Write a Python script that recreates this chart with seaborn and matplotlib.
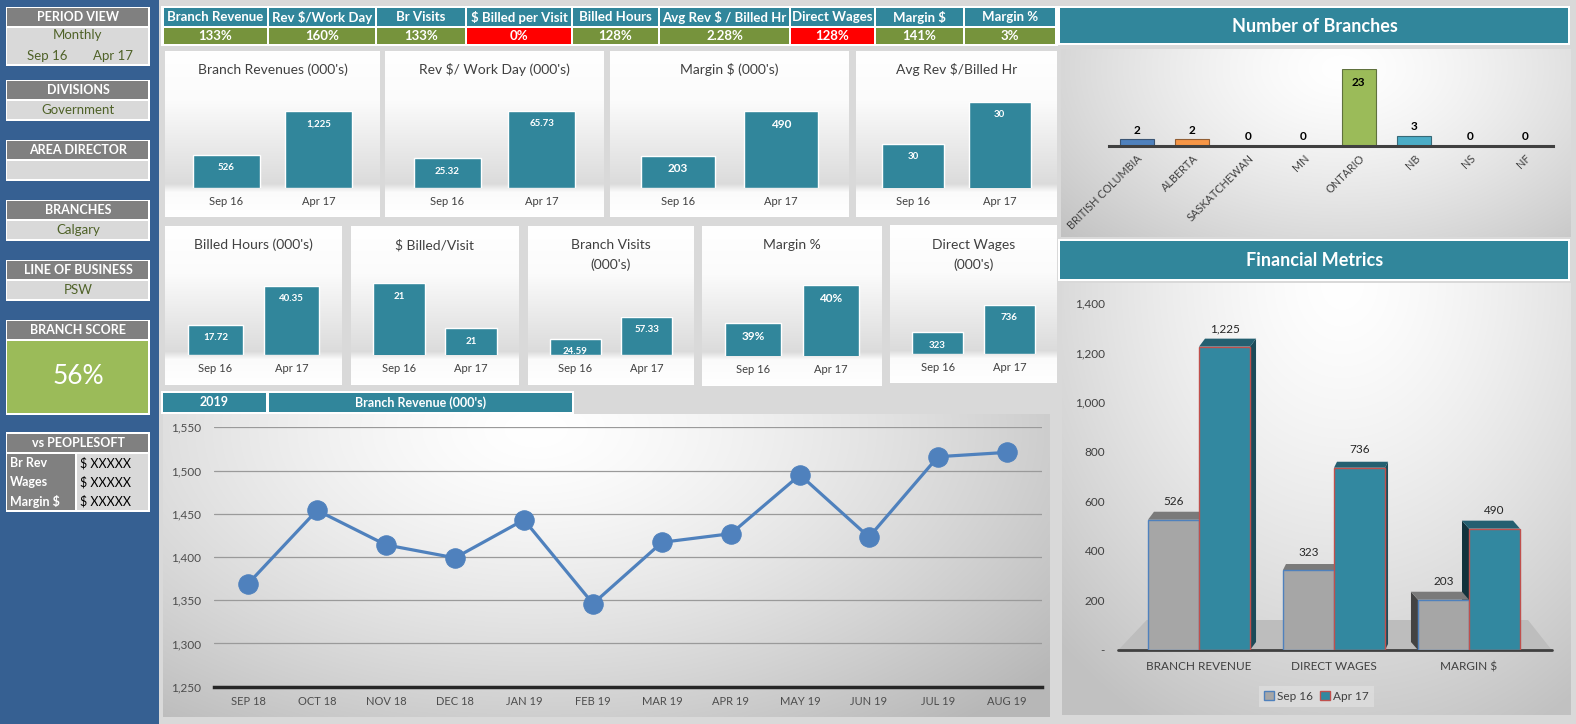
import numpy as np
import pandas as pd
import matplotlib.pyplot as plt
from matplotlib.patches import Rectangle, Polygon, Patch
from matplotlib.ticker import FuncFormatter
import seaborn as sns

# ---------------- data ----------------
periods = ["Sep 16", "Apr 17"]

kpi_names = ["Branch Revenue", "Rev $/Work Day", "Br Visits", "$ Billed per Visit",
             "Billed Hours", "Avg Rev $ / Billed Hr", "Direct Wages", "Margin $", "Margin %"]
kpi_values = ["133%", "160%", "133%", "0%", "128%", "2.28%", "128%", "141%", "3%"]
kpi_status = ["ok", "ok", "ok", "bad", "ok", "ok", "bad", "ok", "ok"]

branch_revenues = [526, 1225]
rev_per_work_day = [25.32, 65.73]
margin_dollars = [203, 490]
avg_rev_billed_hr = [29.6, 30.4]
billed_hours = [17.72, 40.35]
billed_per_visit = [21.4, 20.6]
branch_visits = [24.59, 57.33]
margin_pct = [0.392, 0.404]
direct_wages = [323, 736]

provinces = ["BRITISH COLUMBIA", "ALBERTA", "SASKATCHEWAN", "MN", "ONTARIO", "NB", "NS", "NF"]
branch_counts = [2, 2, 0, 0, 23, 3, 0, 0]

fin_metrics = ["BRANCH REVENUE", "DIRECT WAGES", "MARGIN $"]
fin_sep16 = [526, 323, 203]
fin_apr17 = [1225, 736, 490]

months = ["SEP 18", "OCT 18", "NOV 18", "DEC 18", "JAN 19", "FEB 19",
          "MAR 19", "APR 19", "MAY 19", "JUN 19", "JUL 19", "AUG 19"]
monthly_revenue = [1369, 1454, 1414, 1399, 1443, 1346, 1417, 1427, 1495, 1423, 1516, 1521]

peoplesoft_rows = ["Br Rev", "Wages", "Margin $"]
peoplesoft_vals = ["$ XXXXX", "$ XXXXX", "$ XXXXX"]

# ---------------- style ----------------
W, H = 1576, 724
TEAL = "#31869b"
GREEN = "#76933c"
RED = "#ff0000"
SIDE_BLUE = "#366092"
MAIN_BG = "#d9d9d9"
HEADER_GRAY = "#808080"
BODY_GRAY = "#d9d9d9"
OLIVE_TXT = "#4f6228"
TXT = "#404040"

sns.set_theme(style="white")
plt.rcParams["font.family"] = ["Lato", "DejaVu Sans"]

fig = plt.figure(figsize=(W / 100, H / 100), dpi=100)
fig.patch.set_facecolor(MAIN_BG)

bg = fig.add_axes([0, 0, 1, 1])
bg.axis("off")


def to_fig(x0, y0, x1, y1):
    return [x0 / W, 1 - y1 / H, (x1 - x0) / W, (y1 - y0) / H]


def rect(x0, y0, x1, y1, color, z=2):
    bg.add_patch(Rectangle((x0, y0), x1 - x0, y1 - y0, facecolor=color, edgecolor="none", zorder=z))


def label(x, y, s, **kw):
    kw.setdefault("ha", "center")
    kw.setdefault("va", "center")
    kw.setdefault("zorder", 5)
    bg.text(x, y, s, **kw)


def radial_panel(x0, y0, x1, y1, cx, cy, rx, ry, inner=1.0, outer=0.74):
    w, h = int(x1 - x0), int(y1 - y0)
    yy, xx = np.mgrid[0:h, 0:w]
    r = np.sqrt(((xx - cx * w) / (rx * w)) ** 2 + ((yy - cy * h) / (ry * h)) ** 2)
    t = np.clip(r, 0, 1) ** 1.4
    c = inner + (outer - inner) * t
    bg.imshow(np.dstack([c, c, c]), extent=(x0, x1, y1, y0), aspect="auto",
              interpolation="bilinear", zorder=1)


def band_panel(x0, y0, x1, y1, base):
    h, w = int(y1 - y0), int(x1 - x0)
    y = np.linspace(0, 1, h)
    fb = (base - y0) / (y1 - y0)
    v = np.interp(y, [0, 0.3, fb - 0.02, fb + 0.03, 1], [1.0, 0.985, 0.86, 0.985, 1.0])
    img = np.repeat(v[:, None], w, axis=1)
    bg.imshow(np.dstack([img, img, img]), extent=(x0, x1, y1, y0), aspect="auto",
              interpolation="bilinear", zorder=1)


# ---------------- left sidebar ----------------
rect(0, 0, 159, H, SIDE_BLUE, z=0)


def filter_box(y, h, title, body_color=BODY_GRAY):
    rect(6, y, 150, y + h, "white")
    rect(7.5, y + 1.7, 148.5, y + 19.5, HEADER_GRAY, z=3)
    rect(7.5, y + 21, 148.5, y + h - 1.7, body_color, z=3)
    label(78, y + 10.8, title, color="white", fontsize=9, fontweight="bold")


filter_box(6.5, 59.5, "PERIOD VIEW")
label(78, 35, "Monthly", color=OLIVE_TXT, fontsize=9.5)
label(47, 56, periods[0], color=OLIVE_TXT, fontsize=9.5)
label(113, 56, periods[1], color=OLIVE_TXT, fontsize=9.5)

filter_box(79.5, 41.5, "DIVISIONS")
label(78, 110, "Government", color=OLIVE_TXT, fontsize=9.5)
filter_box(139.5, 41.5, "AREA DIRECTOR")
filter_box(199.5, 41.5, "BRANCHES")
label(78, 230, "Calgary", color=OLIVE_TXT, fontsize=9.5)
filter_box(259.5, 41.5, "LINE OF BUSINESS")
label(78, 290, "PSW", color=OLIVE_TXT, fontsize=9.5)

filter_box(319.5, 95, "BRANCH SCORE", body_color="#9bbb59")
label(78, 377, "56%", color="white", fontsize=19)

rect(6, 432, 150, 512, "white")
rect(7.5, 433.7, 148.5, 452, HEADER_GRAY, z=3)
label(78, 443, "vs PEOPLESOFT", color="white", fontsize=9, fontweight="bold")
rect(7.5, 454, 75, 510.3, HEADER_GRAY, z=3)
rect(77, 454, 148.5, 510.3, BODY_GRAY, z=3)
for i, (r_name, r_val) in enumerate(zip(peoplesoft_rows, peoplesoft_vals)):
    yy = 463 + i * 19
    label(10, yy, r_name, ha="left", color="white", fontsize=9, fontweight="bold")
    label(80, yy, r_val, ha="left", color="black", fontsize=9)

# ---------------- KPI strip ----------------
kpi_edges = [163, 268, 376, 466, 572, 659, 790, 875, 964, 1056]
rect(161, 6, 1058, 45.5, "white")
for i, (name, val, status) in enumerate(zip(kpi_names, kpi_values, kpi_status)):
    xa, xb = kpi_edges[i] + 1, kpi_edges[i + 1] - 1
    rect(xa, 8, xb, 26, TEAL, z=3)
    rect(xa, 27.5, xb, 43.5, GREEN if status == "ok" else RED, z=3)
    label((xa + xb) / 2, 17, name, color="white", fontsize=9.5, fontweight="bold")
    label((xa + xb) / 2, 35.5, val, color="white", fontsize=9.5, fontweight="bold")

# ---------------- small bar panels ----------------
small_charts = [
    # title lines, values, label fmt, panel, baseline, tallest top, y floor, label size
    (["Branch Revenues (000's)"], branch_revenues, "{:,.0f}", (165, 51, 380, 217), 187.5, 111, 0, 7),
    (["Rev $/ Work Day (000's)"], rev_per_work_day, "{:.2f}", (385, 51, 604, 217), 187.5, 111, 0, 7),
    (["Margin $ (000's)"], margin_dollars, "{:,.0f}", (610, 51, 849, 217), 187.5, 111, 0, 8.5),
    (["Avg Rev $/Billed Hr"], avg_rev_billed_hr, "{:.0f}", (856, 51, 1057, 217), 187.5, 102, 28.77, 7),
    (["Billed Hours (000's)"], billed_hours, "{:.2f}", (165, 226, 342, 385), 355, 286, 0, 7),
    (["$ Billed/Visit"], billed_per_visit, "{:.0f}", (351, 226, 519, 385), 355, 283, 20.125, 7),
    (["Branch Visits", "(000's)"], branch_visits, "{:.2f}", (528, 226, 694, 385), 355, 317, 0, 7),
    (["Margin %"], margin_pct, "{:.0%}", (702, 226, 882, 386), 355.5, 285, 0.3818, 8.5),
    (["Direct Wages", "(000's)"], direct_wages, "{:,.0f}", (890, 225, 1057, 383), 354, 305, 0, 7),
]

for title, vals, fmt, panel, base, top, yfloor, lsize in small_charts:
    x0, y0, x1, y1 = panel
    rect(x0, y0, x1, y1, "white", z=0.5)
    band_panel(x0, y0, x1, y1, base)
    cx = (x0 + x1) / 2
    sp = 0.43 * (x1 - x0)
    ax = fig.add_axes(to_fig(cx - sp, top, cx + sp, base))
    ax.set_facecolor("none")
    sns.barplot(x=periods, y=vals, color=TEAL, width=0.72, saturation=1, ax=ax)
    ax.set_xlim(-0.5, 1.5)
    ax.set_ylim(yfloor, max(vals))
    ax.set_yticks([])
    ax.set_xlabel("")
    ax.set_ylabel("")
    sns.despine(ax=ax, left=True, bottom=True)
    ax.tick_params(axis="x", length=0, pad=6, labelsize=8, labelcolor=TXT)
    for p, v in zip(ax.patches, vals):
        ax.annotate(fmt.format(v), (p.get_x() + p.get_width() / 2, v), xytext=(0, -13),
                    textcoords="offset pixels", ha="center", va="center",
                    color="white", fontsize=lsize, fontweight="bold")
    t_y = 70 if y0 < 100 else 245
    for j, line in enumerate(title):
        label(cx, t_y + j * 20, line, color=TXT, fontsize=10)

# ---------------- monthly revenue line ----------------
rect(161, 391, 574, 414, "white")
rect(163, 393, 266, 411.5, TEAL, z=3)
rect(269, 393, 572, 411.5, TEAL, z=3)
label(214.5, 402.5, "2019", color="white", fontsize=9, fontweight="bold")
label(420.5, 402.5, "Branch Revenue (000's)", color="white", fontsize=9, fontweight="bold")
radial_panel(163, 414, 1050, 717, 0.42, 0.05, 0.75, 1.25, outer=0.72)

ax_line = fig.add_axes(to_fig(213.5, 427.3, 1041.5, 686.7))
ax_line.set_facecolor("none")
sns.lineplot(x=np.arange(len(months)), y=monthly_revenue, marker="o", markersize=14,
             color="#4f81bd", markeredgecolor="#4f81bd", linewidth=2.3, ax=ax_line)
ax_line.set_xlim(-0.5, len(months) - 0.5)
ax_line.set_ylim(1250, 1550)
ax_line.set_yticks(range(1250, 1551, 50))
ax_line.yaxis.set_major_formatter(FuncFormatter(lambda v, _: f"{v:,.0f}"))
ax_line.set_xticks(np.arange(len(months)), months)
ax_line.yaxis.grid(True, color="#9a9a9a", lw=0.9)
ax_line.set_axisbelow(True)
for s in ["left", "right", "top"]:
    ax_line.spines[s].set_visible(False)
ax_line.spines["bottom"].set_color("#262626")
ax_line.spines["bottom"].set_linewidth(2.5)
ax_line.tick_params(axis="y", length=0, pad=9, labelsize=8.5, labelcolor="#4d4d4d")
ax_line.tick_params(axis="x", length=0, pad=7, labelsize=8, labelcolor="#4d4d4d")

# ---------------- number of branches ----------------
rect(1058, 6, 1570, 45, "white")
rect(1060, 8, 1568, 43, TEAL, z=3)
label(1315, 26, "Number of Branches", color="white", fontsize=13, fontweight="bold")
radial_panel(1061, 49, 1571, 237, 0.55, 0.1, 0.75, 1.3, outer=0.76)

prov_colors = ["#4f81bd", "#f79646", "#c0504d", "#8064a2", "#9bbb59", "#4bacc6", "#f79646", "#2c4d75"]
ax_br = fig.add_axes(to_fig(1109, 69, 1553, 145.7))
ax_br.set_facecolor("none")
sns.barplot(x=provinces, y=branch_counts, hue=provinces, palette=prov_colors, width=0.62,
            saturation=1, legend=False, ax=ax_br)
ax_br.set_ylim(0, max(branch_counts))
ax_br.set_xlim(-0.5, len(provinces) - 0.5)
ax_br.set_yticks([])
ax_br.set_xlabel("")
ax_br.set_ylabel("")
for s in ["left", "right", "top"]:
    ax_br.spines[s].set_visible(False)
ax_br.spines["bottom"].set_color("#404040")
ax_br.spines["bottom"].set_linewidth(2.2)
ax_br.tick_params(axis="x", length=0, pad=5, labelsize=7.8, labelcolor=TXT)
for tl in ax_br.get_xticklabels():
    tl.set_rotation(45)
    tl.set_ha("right")
    tl.set_rotation_mode("anchor")
for p in ax_br.patches:
    h = p.get_height()
    if np.isnan(h):
        continue
    p.set_edgecolor(sns.dark_palette(p.get_facecolor(), 3)[1] if h > 0 else "none")
    p.set_linewidth(0.8)
    xc = p.get_x() + p.get_width() / 2
    off = -14 if h == max(branch_counts) else 9
    ax_br.annotate(f"{h:.0f}", (xc, h), xytext=(0, off), textcoords="offset pixels",
                   ha="center", va="center", fontsize=8.5, fontweight="bold", color="black")

# ---------------- financial metrics ----------------
rect(1058, 239, 1570, 281, "white")
rect(1060, 241, 1568, 279, TEAL, z=3)
label(1315, 261, "Financial Metrics", color="white", fontsize=13, fontweight="bold")
radial_panel(1062, 283, 1571, 715, 0.55, 0.0, 0.8, 1.15, outer=0.76)
bg.add_patch(Polygon([(1118.3, 650), (1551.7, 650), (1528, 620), (1146.7, 620)],
                     closed=True, facecolor="#bdbdbd", edgecolor="none", zorder=2))
bg.plot([1118, 1552], [650, 650], color="#404040", lw=2, zorder=3)

fin_df = pd.DataFrame({
    "metric": fin_metrics * 2,
    "period": [periods[0]] * len(fin_metrics) + [periods[1]] * len(fin_metrics),
    "value": fin_sep16 + fin_apr17,
})
ax_fin = fig.add_axes(to_fig(1131.5, 303.3, 1536.5, 650))
ax_fin.set_facecolor("none")
sns.barplot(data=fin_df, x="metric", y="value", hue="period", palette=["#a6a6a6", "#3288a0"],
            width=0.756, saturation=1, legend=False, ax=ax_fin)
ax_fin.set_ylim(0, 1400)
ax_fin.set_xlim(-0.5, 2.5)
ax_fin.set_yticks(range(0, 1401, 200))
ax_fin.yaxis.set_major_formatter(FuncFormatter(lambda v, _: "-" if v == 0 else f"{v:,.0f}"))
ax_fin.set_xlabel("")
ax_fin.set_ylabel("")
sns.despine(ax=ax_fin, left=True, bottom=True)
ax_fin.tick_params(axis="y", length=0, pad=19, labelsize=8.5, labelcolor=TXT)
ax_fin.tick_params(axis="x", length=0, pad=8, labelsize=8.5, labelcolor=TXT)
for cont, ec in zip(ax_fin.containers, ["#4f81bd", "#c0504d"]):
    for p in cont:
        p.set_edgecolor(ec)
        p.set_linewidth(1)
        p.set_zorder(1)
    ax_fin.bar_label(cont, labels=[f"{b.get_height():,.0f}" for b in cont], padding=9,
                     fontsize=8.5, color="#262626")

# 3D look: perspective depth per category (pixels right, pixels up)
fin_depth = [(6, 8), (3, 6), (-7, 8)]
fpos = ax_fin.get_position()
px_x = fpos.width * W / 3.0
px_y = fpos.height * H / 1400.0


def bar_faces(bar, dxp, dyp, top_c, side_c, side=True):
    dx, dy = dxp / px_x, dyp / px_y
    xl, xr = bar.get_x(), bar.get_x() + bar.get_width()
    b, t = bar.get_y(), bar.get_y() + bar.get_height()
    if side:
        xs = xr if dx > 0 else xl
        ax_fin.add_patch(Polygon([(xs, b), (xs + dx, b + dy), (xs + dx, t + dy), (xs, t)],
                                 facecolor=side_c, edgecolor="none", zorder=0.9, clip_on=False))
    ax_fin.add_patch(Polygon([(xl, t), (xr, t), (xr + dx, t + dy), (xl + dx, t + dy)],
                             facecolor=top_c, edgecolor="none", zorder=0.9, clip_on=False))


sep_bars, apr_bars = ax_fin.containers[0], ax_fin.containers[1]
for k, (dxp, dyp) in enumerate(fin_depth):
    bar_faces(apr_bars[k], dxp, dyp, "#245f70", "#1c4a58" if dxp > 0 else "#12323c")
    bar_faces(sep_bars[k], dxp, dyp, "#7a7a7a", "#434343", side=dxp < 0)

handles = [Patch(facecolor="#a6a6a6", edgecolor="#4f81bd"), Patch(facecolor="#3288a0", edgecolor="#c0504d")]
fig.legend(handles, periods, loc="center", bbox_to_anchor=(1316.5 / W, 1 - 696.5 / H), ncol=2,
           frameon=True, facecolor="#dedede", edgecolor="none", fontsize=8.5, handlelength=0.8,
           handleheight=0.8, columnspacing=0.6, handletextpad=0.3, borderpad=0.4, fancybox=False,
           labelcolor=TXT)

bg.set_xlim(0, W)
bg.set_ylim(H, 0)
fig.savefig("out.png", dpi=100, facecolor=fig.get_facecolor())
